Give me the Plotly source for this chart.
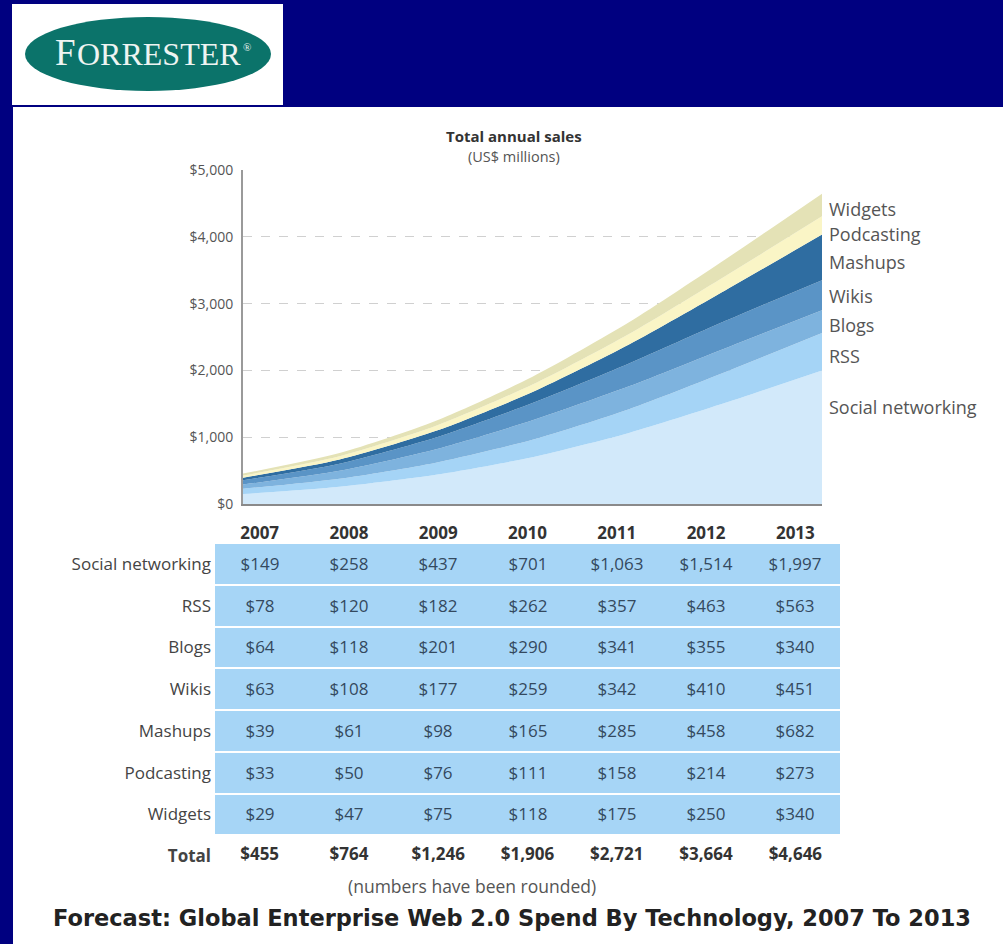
import plotly.graph_objects as go

# ---------------- data ----------------
years = [2007, 2008, 2009, 2010, 2011, 2012, 2013]
technologies = ["Social networking", "RSS", "Blogs", "Wikis", "Mashups", "Podcasting", "Widgets"]
social_networking = [149, 258, 437, 701, 1063, 1514, 1997]
rss = [78, 120, 182, 262, 357, 463, 563]
blogs = [64, 118, 201, 290, 341, 355, 340]
wikis = [63, 108, 177, 259, 342, 410, 451]
mashups = [39, 61, 98, 165, 285, 458, 682]
podcasting = [33, 50, 76, 111, 158, 214, 273]
widgets = [29, 47, 75, 118, 175, 250, 340]
totals = [455, 764, 1246, 1906, 2721, 3664, 4646]
y_ticks = [0, 1000, 2000, 3000, 4000, 5000]
y_tick_labels = ["$0", "$1,000", "$2,000", "$3,000", "$4,000", "$5,000"]

series = [social_networking, rss, blogs, wikis, mashups, podcasting, widgets]
colors = ["#d2e9fa", "#a5d4f6", "#7eb3de", "#5a94c6", "#2f6da1", "#faf5c6", "#e4e2b6"]

W, H = 1003, 944
FONT = "Open Sans"


def px(x):
    return x / W


def py(y):
    return 1 - y / H


fig = go.Figure()

# ---------------- stacked area chart ----------------
for name, vals, col in zip(technologies, series, colors):
    fig.add_trace(go.Scatter(
        x=years, y=vals, name=name, stackgroup="one",
        mode="lines", line=dict(width=0, shape="spline", smoothing=0.7),
        fillcolor=col, hoverinfo="x+y+name", showlegend=False,
        xaxis="x", yaxis="y",
    ))

# ---------------- table (heatmap cells) ----------------
def money(v):
    return "${:,}".format(v)

cell_text = [[money(v) for v in s] for s in series]
fig.add_trace(go.Heatmap(
    x=[str(y) for y in years], y=technologies,
    z=[[1] * len(years) for _ in technologies],
    text=cell_text, texttemplate="%{text}",
    textfont=dict(family=FONT, size=17, color="#34495e"),
    colorscale=[[0, "#a6d5f6"], [1, "#a6d5f6"]], showscale=False,
    xgap=0, ygap=2, hoverinfo="skip",
    xaxis="x2", yaxis="y2",
))
fig.add_trace(go.Scatter(
    x=[str(y) for y in years], y=["Total"] * len(years),
    text=["<b>" + money(v) + "</b>" for v in totals],
    mode="text", textfont=dict(family=FONT, size=17, color="#333333"),
    hoverinfo="skip", showlegend=False, xaxis="x2", yaxis="y2",
))

row_cats = technologies + ["Total"]

shapes = [
    # white panel
    dict(type="rect", xref="paper", yref="paper", x0=px(13), x1=px(1003), y0=py(944), y1=py(107),
         fillcolor="white", line=dict(width=0), layer="below"),
    # logo box
    dict(type="rect", xref="paper", yref="paper", x0=px(12), x1=px(283), y0=py(105), y1=py(4),
         fillcolor="white", line=dict(width=0), layer="below"),
    # logo ellipse
    dict(type="circle", xref="paper", yref="paper", x0=px(25), x1=px(271), y0=py(91), y1=py(17),
         fillcolor="#0b736a", line=dict(width=0), layer="below"),
]


def paper_note(x, y, text, size, color, family=FONT, xanchor="center", yanchor="middle"):
    return dict(xref="paper", yref="paper", x=px(x), y=py(y), xanchor=xanchor, yanchor=yanchor,
                showarrow=False, text=text, font=dict(family=family, size=size, color=color),
                borderpad=0)


annotations = [
    # logo lettering
    paper_note(77, 52.5, "F", 37, "#eef4f2", "Liberation Serif", xanchor="right"),
    paper_note(76, 54.5, "ORRESTER", 32, "#eef4f2", "Liberation Serif", xanchor="left"),
    paper_note(242, 47, "®", 11, "#eef4f2", "Liberation Serif", xanchor="left"),
    # chart headings & notes
    paper_note(514, 136, "<b>Total annual sales</b>", 15, "#333333"),
    paper_note(514, 156.5, "(US$ millions)", 14.5, "#555555"),
    paper_note(472, 886, "(numbers have been rounded)", 17.5, "#555555"),
    paper_note(512, 918, "<b>Forecast: Global Enterprise Web 2.0 Spend By Technology, 2007 To 2013</b>",
               22.5, "#222222", "DejaVu Sans"),
]

# right-hand series labels, placed at the middle of each band in 2013
label_shift = {"Social networking": 30, "Podcasting": -9, "Mashups": -5, "Widgets": -4,
               "Wikis": -1, "Blogs": -3, "RSS": -4}
cum = 0
for name, vals in zip(technologies, series):
    mid = cum + vals[-1] / 2
    cum += vals[-1]
    annotations.append(dict(
        xref="x", yref="y", x=years[-1], y=mid, xanchor="left", yanchor="middle", xshift=5,
        yshift=label_shift.get(name, 0), showarrow=False, text=name,
        font=dict(family=FONT, size=18, color="#555555"),
    ))

fig.update_layout(
    width=W, height=H, margin=dict(l=0, r=0, t=0, b=0, pad=0, autoexpand=False),
    paper_bgcolor="#000080", plot_bgcolor="white",
    shapes=shapes, annotations=annotations, showlegend=False,
    xaxis=dict(domain=[px(243), px(822)], range=[years[0], years[-1]],
               showticklabels=False, showgrid=False, zeroline=False,
               showline=True, linecolor="#8a8a8a", linewidth=2, anchor="y", automargin=False),
    yaxis=dict(domain=[py(504), py(170)], range=[0, 5000], tickvals=y_ticks,
               ticktext=y_tick_labels, tickfont=dict(family=FONT, size=14, color="#555555"),
               showgrid=True, gridcolor="#d0d0d0", griddash="dash", gridwidth=1,
               zeroline=False, showline=True, linecolor="#9a9a9a", linewidth=2,
               ticks="", ticklabelstandoff=5, anchor="x", automargin=False),
    xaxis2=dict(domain=[px(215), px(840)], type="category", side="top",
                tickvals=[str(y) for y in years],
                ticktext=["<b>%d</b>" % y for y in years],
                tickfont=dict(family=FONT, size=17, color="#333333"),
                showgrid=False, zeroline=False, showline=False, ticks="",
                ticklabelstandoff=0, anchor="y2", automargin=False),
    yaxis2=dict(domain=[py(877), py(543)], type="category",
                categoryorder="array", categoryarray=row_cats,
                range=[len(row_cats) - 0.5, -0.5],
                tickvals=row_cats, ticktext=technologies + ["<b>Total</b>"],
                tickfont=dict(family=FONT, size=17, color="#444444"),
                showgrid=False, zeroline=False, showline=False, ticks="",
                ticklabelstandoff=3, anchor="x2", automargin=False),
)

fig.write_html("out.html")
